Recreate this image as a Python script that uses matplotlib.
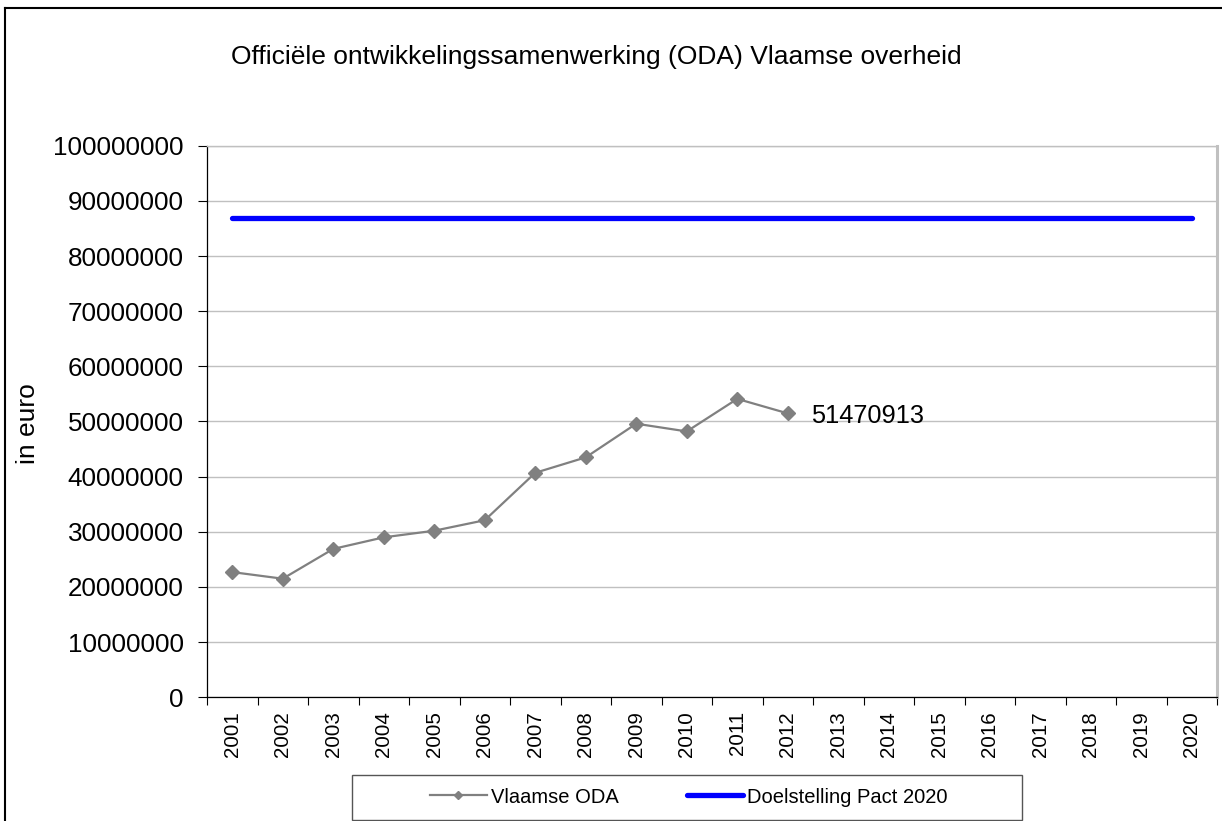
import matplotlib
matplotlib.use("Agg")
import matplotlib.pyplot as plt
from matplotlib.patches import Rectangle
from matplotlib.lines import Line2D
from matplotlib.ticker import FixedLocator, FuncFormatter, NullFormatter

plt.rcParams['font.family'] = ['Liberation Sans', 'DejaVu Sans']

years = [str(y) for y in range(2001, 2021)]
oda_years = years[:12]
oda_values = [22700000, 21500000, 26900000, 29000000, 30200000, 32100000,
              40700000, 43500000, 49600000, 48200000, 54100000, 51470913]
target_value = 86900000
title = "Officiële ontwikkelingssamenwerking (ODA) Vlaamse overheid"
ylabel = "in euro"
yticks = list(range(0, 100000001, 10000000))

W, H = 1222, 821
fig = plt.figure(figsize=(W / 100, H / 100), dpi=100)
fig.patch.set_facecolor('white')

def fx(px):
    return px / W

def fy(py):
    return 1 - py / H

ax = fig.add_axes([fx(207), fy(697.3), fx(1217) - fx(207), fy(145.7) - fy(697.3)])

xpos = list(range(len(years)))
oda_x = [years.index(y) for y in oda_years]

ax.plot([xpos[0], xpos[-1]], [target_value, target_value], color='#0000ff', lw=3.8,
        solid_capstyle='round', label='Doelstelling Pact 2020', zorder=3)
ax.plot(oda_x, oda_values, color='#808080', lw=1.6, marker='D', markersize=7.2,
        mfc='#808080', mec='#808080', label='Vlaamse ODA', zorder=4)

ax.annotate(f"{oda_values[-1]}", xy=(oda_x[-1], oda_values[-1]), xytext=(17, 0),
            textcoords='offset points', fontsize=18.3, va='center_baseline', ha='left')

ax.set_xlim(-0.5, len(years) - 0.5)
ax.set_ylim(0, 100000000)

ax.yaxis.set_major_locator(FixedLocator(yticks))
ax.yaxis.set_major_formatter(FuncFormatter(lambda v, p: f"{int(round(v))}"))
ax.tick_params(axis='y', direction='out', length=6.3, width=0.8, pad=10.5,
               labelsize=18.7, colors='black')

ax.xaxis.set_major_locator(FixedLocator([i - 0.5 for i in range(len(years) + 1)]))
ax.xaxis.set_major_formatter(NullFormatter())
ax.xaxis.set_minor_locator(FixedLocator(xpos))
ax.set_xticklabels(years, minor=True, rotation=90, fontsize=14.8)
ax.tick_params(axis='x', which='major', direction='out', length=6, width=0.8)
ax.tick_params(axis='x', which='minor', length=0, pad=10)

ax.grid(axis='y', color='#c0c0c0', lw=1)
ax.set_axisbelow(True)
for s in ['left', 'bottom']:
    ax.spines[s].set_color('black')
    ax.spines[s].set_linewidth(0.9)
ax.spines['top'].set_color('#c0c0c0')
ax.spines['top'].set_linewidth(1)
ax.spines['right'].set_color('#c0c0c0')
ax.spines['right'].set_linewidth(2.2)

fig.text(fx(596), fy(57), title, fontsize=19, ha='center', va='center')
fig.text(fx(28), fy(424), ylabel, fontsize=19, rotation=90, ha='center', va='center')

# outer frame (top and left visible)
fig.add_artist(Line2D([fx(5), 1.0], [fy(8), fy(8)], color='black', lw=1.5, transform=fig.transFigure))
fig.add_artist(Line2D([fx(5), fx(5)], [fy(8), 0.0], color='black', lw=1.5, transform=fig.transFigure))

# legend
fig.add_artist(Rectangle((fx(352), fy(820)), fx(1022) - fx(352), fy(775) - fy(820),
                         transform=fig.transFigure, fill=False, edgecolor='#555555', lw=1))
handles, labels = ax.get_legend_handles_labels()
order = [1, 0]
leg = fig.legend([handles[i] for i in order], [labels[i] for i in order],
                 loc='center', bbox_to_anchor=(fx(689), fy(797)), ncol=2, frameon=False,
                 fontsize=14.5, handlelength=2.8, handletextpad=0.2, columnspacing=3.4,
                 markerscale=0.6)

fig.savefig('out.png', dpi=100)
